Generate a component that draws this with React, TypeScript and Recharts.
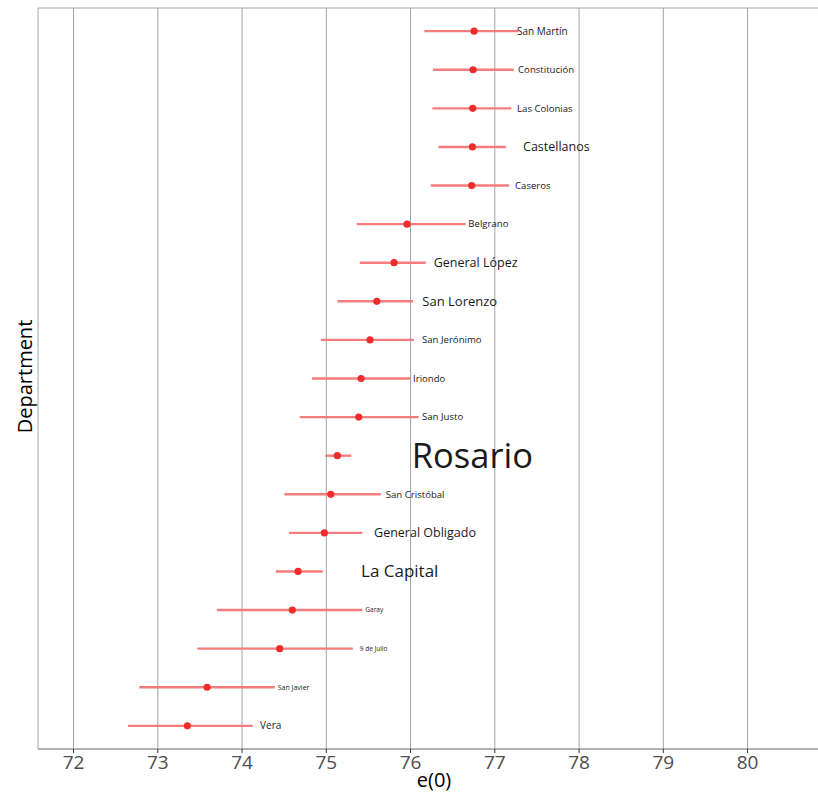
import React from "react";
import { ScatterChart, Scatter, XAxis, YAxis, ErrorBar, ReferenceLine } from "recharts";

const departments = [
  "San Martín", "Constitución", "Las Colonias", "Castellanos", "Caseros", "Belgrano",
  "General López", "San Lorenzo", "San Jerónimo", "Iriondo", "San Justo", "Rosario",
  "San Cristóbal", "General Obligado", "La Capital", "Garay", "9 de Julio", "San Javier", "Vera",
];
const e0 = [
  76.754, 76.742, 76.738, 76.734, 76.726, 75.958, 75.804, 75.599, 75.519, 75.412, 75.385,
  75.131, 75.053, 74.977, 74.665, 74.597, 74.447, 73.585, 73.351,
];
const lower = [
  76.164, 76.267, 76.259, 76.33, 76.24, 75.361, 75.397, 75.131, 74.938, 74.831, 74.685,
  74.989, 74.502, 74.558, 74.4, 73.7, 73.469, 72.781, 72.647,
];
const upper = [
  77.28, 77.225, 77.197, 77.13, 77.17, 76.655, 76.18, 76.03, 76.038, 75.994, 76.097,
  75.297, 75.646, 75.428, 74.958, 75.428, 75.314, 74.388, 74.127,
];
// where each (repelled) label starts, in e(0) units
const labelAt = [
  77.264, 77.276, 77.264, 77.335, 77.24, 76.686, 76.275, 76.14, 76.136, 76.03, 76.136,
  76.014, 75.706, 75.567, 75.412, 75.463, 75.397, 74.424, 74.214,
];
// relative label size (population weight)
const labelSize = [
  10, 9.6, 9.6, 12.5, 9.6, 9.6, 12.5, 13, 9.6, 9.6, 9.6, 34.5, 9.6, 12.5, 17, 6.5, 6.5, 7, 10,
];
const xTicks = [72, 73, 74, 75, 76, 77, 78, 79, 80];
const xDomain = [71.578, 80.836];

const n = departments.length;
const rows = departments.map((name, i) => ({
  name,
  pos: n - i,
  e0: e0[i],
  err: [e0[i] - lower[i], upper[i] - e0[i]],
  lx: labelAt[i],
  size: labelSize[i],
}));

const FONT = "'Open Sans', 'Noto Sans', sans-serif";

const LabelShape = (props: any) => {
  const { cx, cy, payload } = props;
  return (
    <text x={cx} y={cy} dy="0.35em" textAnchor="start" fontSize={payload.size} fill="#1a1a1a" fontFamily={FONT}>
      {payload.name}
    </text>
  );
};

const Dot = (props: any) => {
  const { cx, cy } = props;
  return <circle cx={cx} cy={cy} r={3.6} fill="#ee2c2c" />;
};

const Nothing = () => <g />;

export default function App() {
  return (
    <div style={{ position: "absolute", left: 0, top: 0, width: 818, height: 796, overflow: "hidden" }}>
      <ScatterChart width={818} height={796} margin={{ top: 7, right: 0, bottom: 0, left: 0 }}>
        <XAxis
          type="number"
          dataKey="e0"
          domain={xDomain}
          ticks={xTicks}
          allowDataOverflow
          height={47}
          tickSize={4}
          tickMargin={3}
          axisLine={{ stroke: "#666666" }}
          tickLine={{ stroke: "#333333" }}
          tick={{ fontSize: 19, fill: "#4d4d4d", fontFamily: FONT }}
          label={{
            content: (p: any) => {
              const vb = p.viewBox;
              return (
                <text x={vb.x + vb.width / 2 + 6} y={vb.y + 38} textAnchor="middle" fontSize={20} fill="#000" fontFamily={FONT}>
                  e(0)
                </text>
              );
            },
          }}
        />
        <XAxis
          xAxisId="top"
          orientation="top"
          type="number"
          dataKey="e0"
          domain={xDomain}
          ticks={xTicks}
          allowDataOverflow
          height={1}
          tick={false}
          tickLine={false}
          axisLine={{ stroke: "#a8a8a8" }}
        />
        <YAxis
          type="number"
          dataKey="pos"
          domain={[0.4, 19.6]}
          width={38}
          tick={false}
          tickLine={false}
          axisLine={{ stroke: "#a8a8a8" }}
          label={{
            content: (p: any) => {
              const vb = p.viewBox;
              const cx = vb.x + 24;
              const cy = vb.y + vb.height / 2 - 2;
              return (
                <text x={cx} y={cy} textAnchor="middle" dominantBaseline="central" transform={`rotate(-90 ${cx} ${cy})`} fontSize={20} fill="#000" fontFamily={FONT}>
                  Department
                </text>
              );
            },
          }}
        />
        {xTicks.map((t) => (
          <ReferenceLine key={t} x={t} stroke="#a3a3a3" strokeWidth={1} />
        ))}
        <Scatter data={rows} dataKey="pos" shape={Nothing} isAnimationActive={false}>
          <ErrorBar dataKey="err" direction="x" width={0} stroke="#f47c7c" strokeWidth={2.4} />
        </Scatter>
        <Scatter data={rows} dataKey="pos" shape={Dot} isAnimationActive={false} />
        <Scatter data={rows.map((r) => ({ ...r, e0: r.lx }))} dataKey="pos" shape={LabelShape} isAnimationActive={false} />
      </ScatterChart>
    </div>
  );
}
